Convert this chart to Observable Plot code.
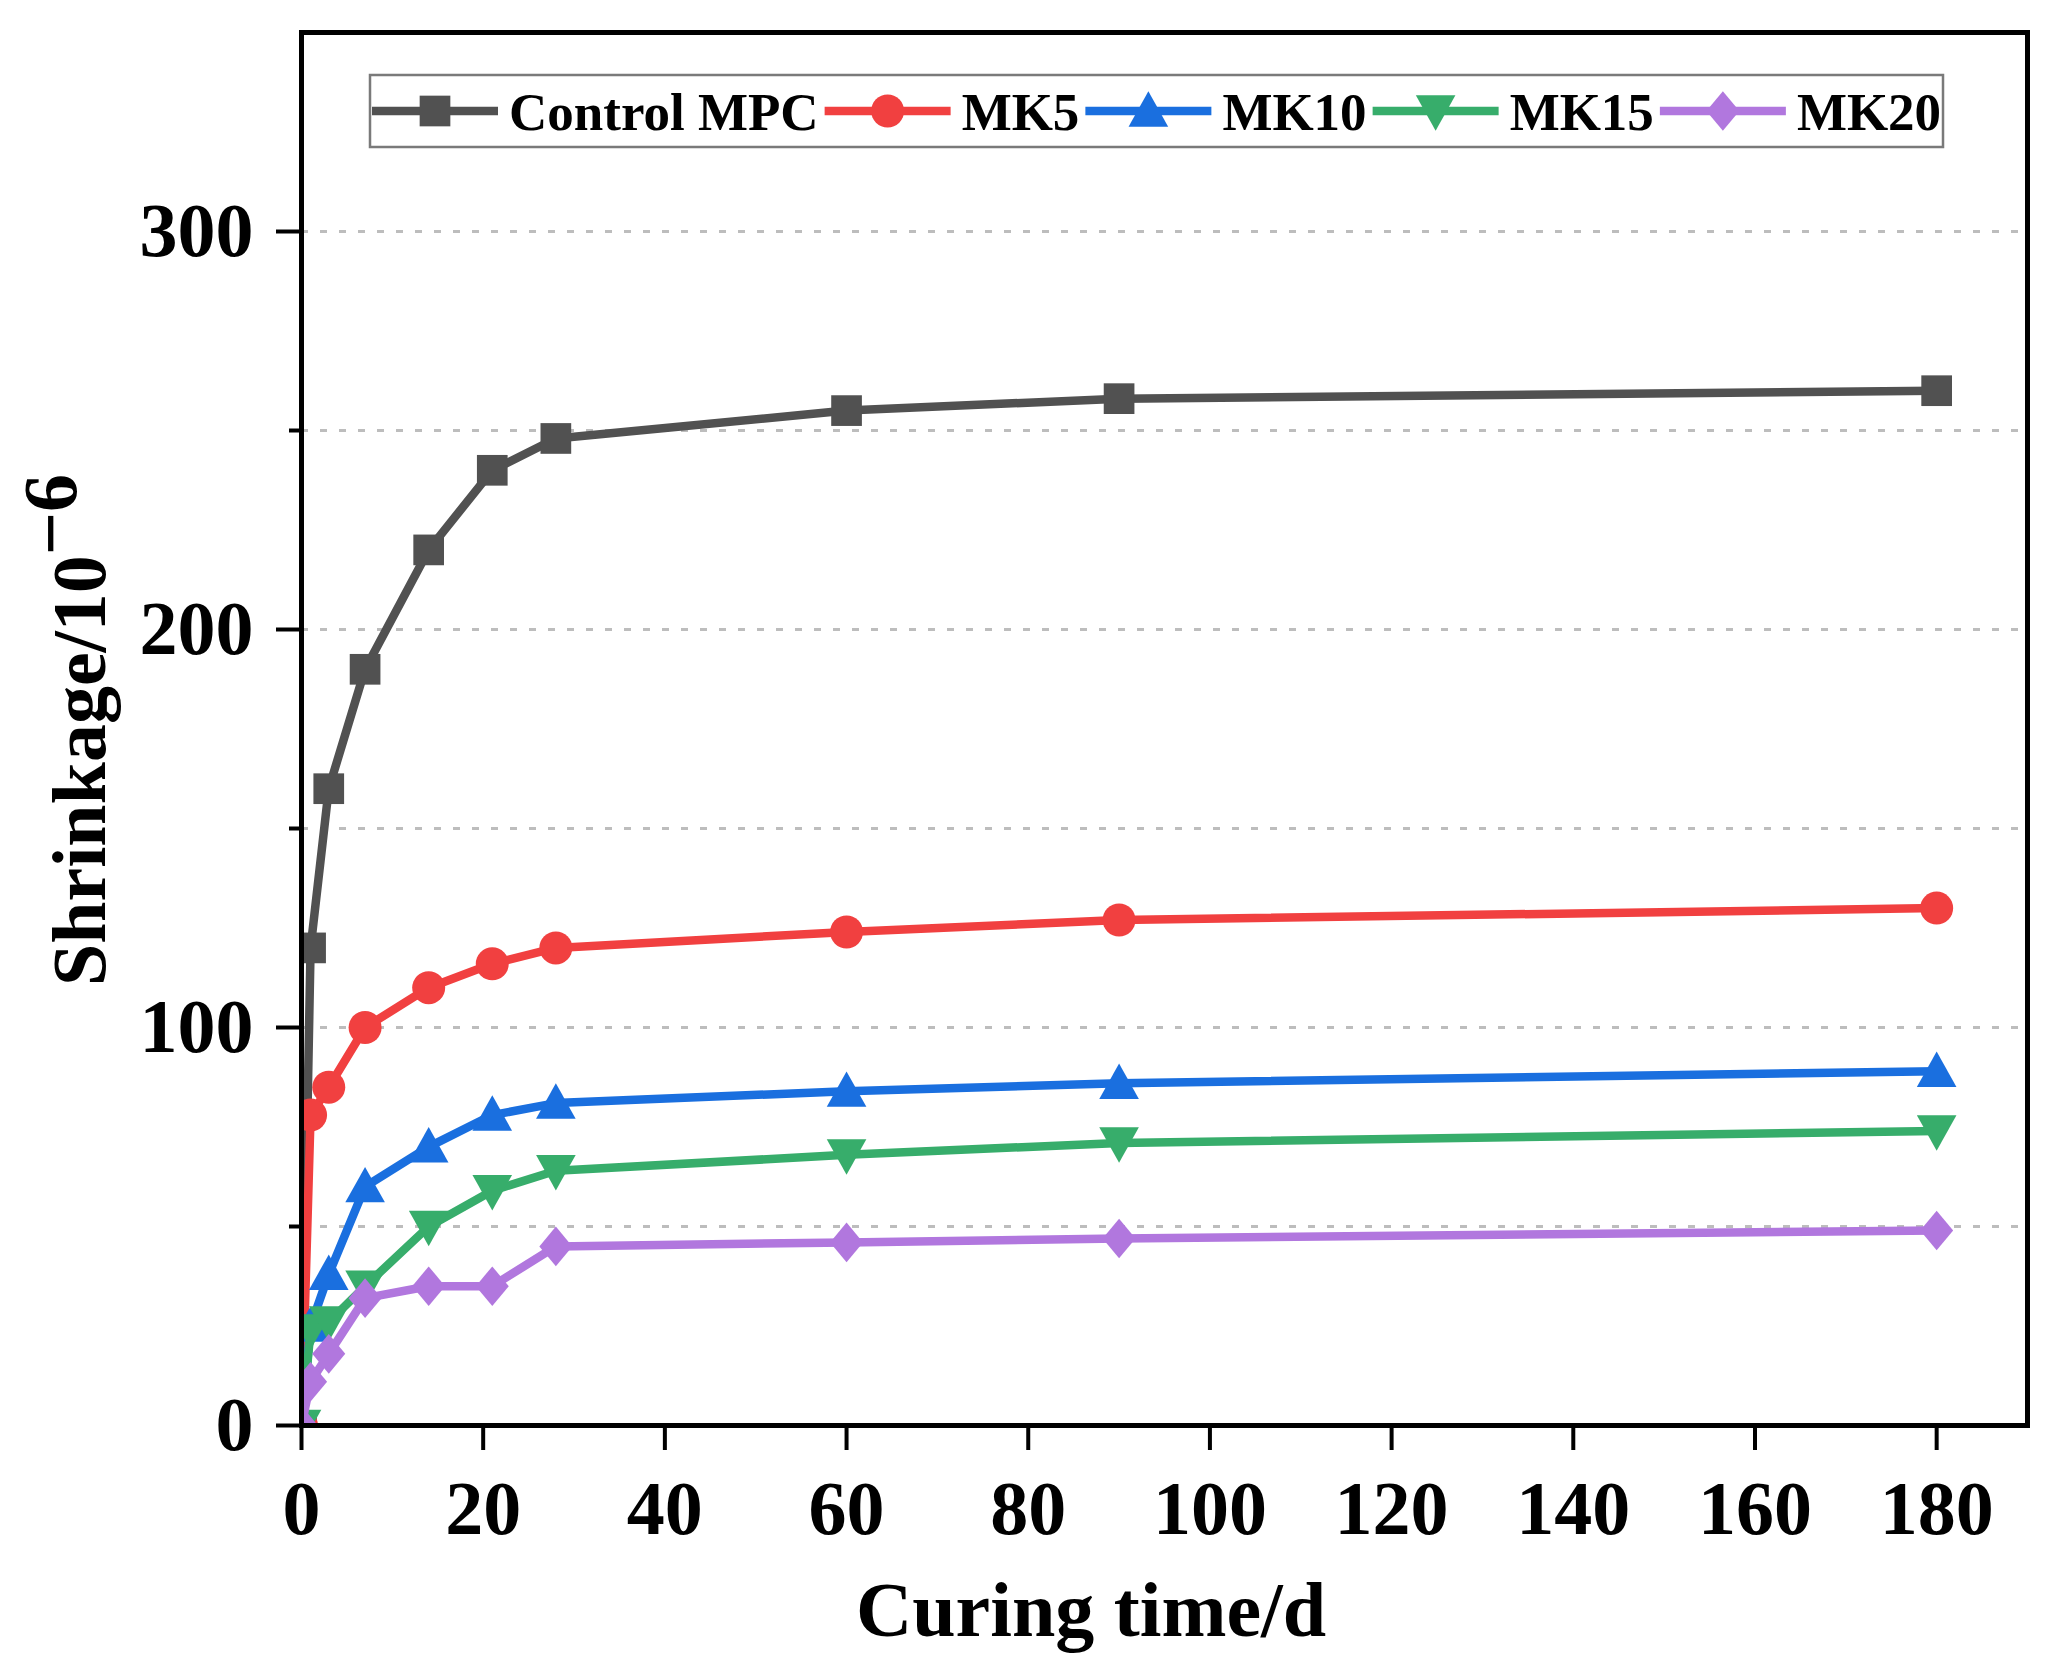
<!DOCTYPE html>
<html>
<head>
<meta charset="utf-8">
<script src="https://cdn.jsdelivr.net/npm/d3@7"></script>
<script src="https://cdn.jsdelivr.net/npm/@observablehq/plot@0.6"></script>
<style>
  html, body { margin: 0; padding: 0; background: #ffffff; }
  #chart svg { display: block; }
</style>
</head>
<body>
<div id="chart"></div>
<script>
// ---------- data ----------
const days = [0, 1, 3, 7, 14, 21, 28, 60, 90, 180];
const seriesNames = ["Control MPC", "MK5", "MK10", "MK15", "MK20"];
const controlMPC = [0, 120, 160, 190, 220, 240, 248, 255, 258, 260];
const mk5  = [0, 78, 85, 100, 110, 116, 120, 124, 127, 130];
const mk10 = [0, 25, 38, 60, 70, 78, 81, 84, 86, 89];
const mk15 = [0, 24, 26, 35, 50, 59, 64, 68, 71, 74];
const mk20 = [0, 11, 18, 32, 35, 35, 45, 46, 47, 49];
const seriesColors = ["#515151", "#F14040", "#1A6FDF", "#37AD6B", "#B177DE"];
const xTicks = [0, 20, 40, 60, 80, 100, 120, 140, 160, 180];
const yTicks = [0, 100, 200, 300];
const yMinorTicks = [50, 150, 250];
const yGridTicks = [50, 100, 150, 200, 250, 300];
const xLabel = "Curing time/d";
const yLabelMain = "Shrinkage/10";
const yLabelSup = "\u22126";

const seriesValues = [controlMPC, mk5, mk10, mk15, mk20];
const rows = seriesNames.flatMap((name, i) =>
  days.map((d, j) => ({series: name, day: d, value: seriesValues[i][j]}))
);

// ---------- marker symbols ----------
const symSquare = {draw(c, size) { const r = Math.sqrt(size / Math.PI), h = 0.93 * r;
  c.moveTo(-h, -h); c.lineTo(h, -h); c.lineTo(h, h); c.lineTo(-h, h); c.closePath(); }};
const symCircle = {draw(c, size) { const r = Math.sqrt(size / Math.PI);
  c.moveTo(r, 0); c.arc(0, 0, r, 0, 2 * Math.PI); c.closePath(); }};
const symTriUp = {draw(c, size) { const r = Math.sqrt(size / Math.PI);
  c.moveTo(0, -1.2 * r); c.lineTo(1.2 * r, 0.95 * r); c.lineTo(-1.2 * r, 0.95 * r); c.closePath(); }};
const symTriDown = {draw(c, size) { const r = Math.sqrt(size / Math.PI);
  c.moveTo(0, 1.2 * r); c.lineTo(1.2 * r, -0.95 * r); c.lineTo(-1.2 * r, -0.95 * r); c.closePath(); }};
const symDiamond = {draw(c, size) { const r = Math.sqrt(size / Math.PI);
  c.moveTo(0, -1.2 * r); c.lineTo(1.0 * r, 0); c.lineTo(0, 1.2 * r); c.lineTo(-1.0 * r, 0); c.closePath(); }};
const seriesSymbols = [symSquare, symCircle, symTriUp, symTriDown, symDiamond];

const FONT = "'Liberation Serif', 'Times New Roman', serif";
const W = 2057, H = 1672;
const MR = 16.5;   // marker radius
const LW = 8.5;    // line width

const seriesMarks = seriesNames.flatMap((name, i) => {
  const sub = rows.filter(r => r.series === name);
  return [
    Plot.line(sub, {x: "day", y: "value", stroke: seriesColors[i], strokeWidth: LW,
      strokeLinejoin: "round", clip: true}),
    Plot.dot(sub, {x: "day", y: "value", fill: seriesColors[i], stroke: "none",
      symbol: seriesSymbols[i], r: MR, clip: true})
  ];
});

const chart = Plot.plot({
  width: W,
  height: H,
  marginLeft: 301,
  marginRight: 30,
  marginTop: 32,
  marginBottom: 247,
  style: {fontFamily: FONT, fontWeight: "bold", color: "#000", background: "#fff", overflow: "visible"},
  x: {domain: [0, 190]},
  y: {domain: [0, 350]},
  marks: [
    Plot.gridY(yGridTicks, {stroke: "#bdbdbd", strokeOpacity: 1, strokeWidth: 3, strokeDasharray: "7,12"}),
    Plot.axisY(yTicks, {tickSize: 25, tickPadding: 23, strokeWidth: 4, fontSize: 76, fontWeight: "bold",
      fontFamily: FONT, tickFormat: d => String(d), label: null}),
    Plot.axisY(yMinorTicks, {tickSize: 12, strokeWidth: 4, tickFormat: null, text: null, label: null}),
    Plot.axisX(xTicks, {tickSize: 25, tickPadding: 30, strokeWidth: 4, fontSize: 76, fontWeight: "bold",
      fontFamily: FONT, tickFormat: d => String(d), label: null}),
    ...seriesMarks,
    Plot.frame({stroke: "#000", strokeWidth: 5})
  ]
});

document.getElementById("chart").appendChild(chart);
const svg = d3.select(chart);

// ---------- axis titles ----------
svg.append("text")
  .attr("x", 1091).attr("y", 1636)
  .attr("text-anchor", "middle")
  .attr("font-family", FONT).attr("font-weight", "bold").attr("font-size", 78)
  .attr("fill", "#000")
  .text(xLabel);

const yt = svg.append("text")
  .attr("transform", "translate(105,730) rotate(-90)")
  .attr("text-anchor", "middle")
  .attr("font-family", FONT).attr("font-weight", "bold").attr("font-size", 76)
  .attr("fill", "#000");
yt.append("tspan").text(yLabelMain);
yt.append("tspan").attr("dy", "-0.38em").text(yLabelSup);

// ---------- legend ----------
const lg = svg.append("g")
  .attr("font-family", FONT).attr("font-weight", "bold").attr("font-size", 53)
  .attr("text-anchor", "start");
lg.append("rect")
  .attr("x", 370).attr("y", 75).attr("width", 1573).attr("height", 72)
  .attr("fill", "#fff").attr("stroke", "#7a7a7a").attr("stroke-width", 2.5);
let cx = 372;
const ly = 111;
const segLen = 126, gapIn = 11, gapOut = 6;
seriesNames.forEach((name, i) => {
  lg.append("line")
    .attr("x1", cx).attr("x2", cx + segLen).attr("y1", ly).attr("y2", ly)
    .attr("stroke", seriesColors[i]).attr("stroke-width", LW);
  lg.append("path")
    .attr("d", d3.symbol(seriesSymbols[i], Math.PI * MR * MR)())
    .attr("transform", `translate(${cx + segLen / 2},${ly})`)
    .attr("fill", seriesColors[i]);
  const t = lg.append("text")
    .attr("x", cx + segLen + gapIn).attr("y", ly).attr("dy", "0.35em")
    .attr("text-anchor", "start")
    .attr("fill", "#000")
    .text(name);
  cx += segLen + gapIn + t.node().getComputedTextLength() + gapOut;
});
</script>
</body>
</html>
